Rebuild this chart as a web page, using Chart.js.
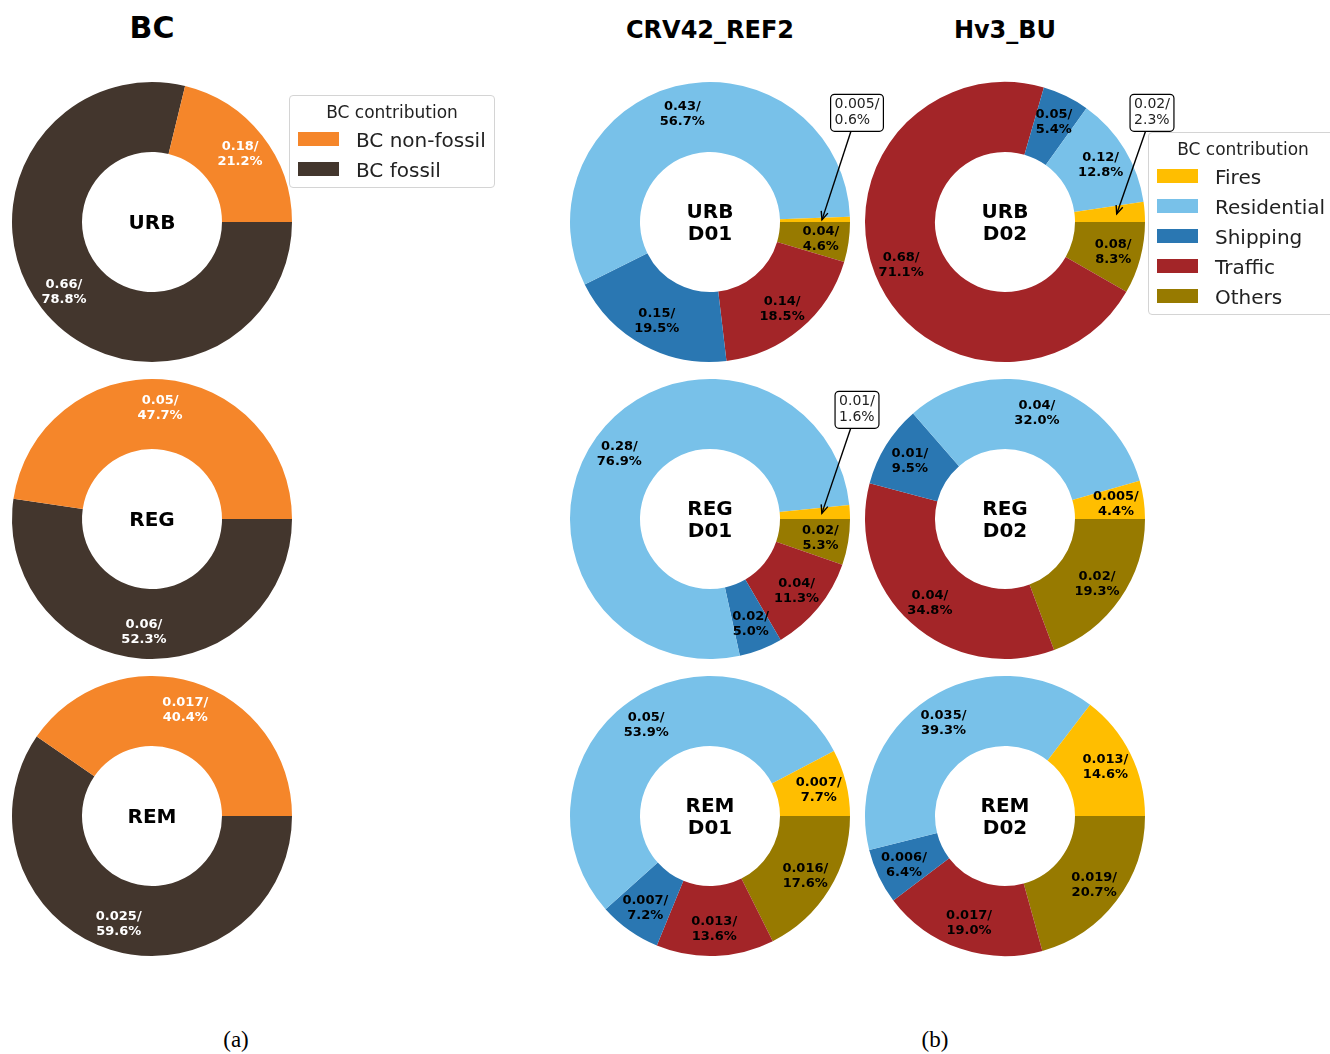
<!DOCTYPE html>
<html>
<head>
<meta charset="utf-8">
<script src="https://cdn.jsdelivr.net/npm/chart.js@4/dist/chart.umd.min.js"></script>
<style>
  body { margin: 0; background: #fff; width: 1330px; height: 1054px; position: relative; overflow: hidden; font-family: "DejaVu Sans", sans-serif; }
  canvas.pie { position: absolute; }
  .title { position: absolute; font-weight: bold; transform: translate(-50%, -50%); white-space: nowrap; color: #000; }
  .caption { position: absolute; font-family: "Liberation Serif", serif; font-size: 23px; transform: translate(-50%, -50%); }
  .legend { position: absolute; border: 1px solid #d4d4d4; border-radius: 4px; background: #fff; box-sizing: border-box; }
  .legend .lt { position: absolute; left: 0; right: 0; top: 6px; text-align: center; font-size: 17px; color: #222; }
  .legend .sw { position: absolute; width: 41px; height: 14px; }
  .legend .it { position: absolute; font-size: 20px; color: #222; line-height: 20px; white-space: nowrap; }
</style>
</head>
<body>
<script>
/* ---- data ---- */
// panel (a): fossil / non-fossil split
const bcCats = ["BC non-fossil", "BC fossil"];
const bcColors = ["#f5862a", "#43362d"];
const bcRegions = ["URB", "REG", "REM"];
const bcConc = [[0.18, 0.66], [0.05, 0.06], [0.017, 0.025]];
const bcPct = [[21.2, 78.8], [47.7, 52.3], [40.4, 59.6]];

// panel (b): source sectors
const srcCats = ["Fires", "Residential", "Shipping", "Traffic", "Others"];
const srcColors = ["#ffbe00", "#78c1e9", "#2a77b2", "#a32528", "#977a00"];
const runs = ["CRV42_REF2", "Hv3_BU"];
const domains = ["D01", "D02"];
// rows URB, REG, REM ; columns D01, D02
const srcConc = [
  [[0.005, 0.43, 0.15, 0.14, 0.04], [0.02, 0.12, 0.05, 0.68, 0.08]],
  [[0.01, 0.28, 0.02, 0.04, 0.02], [0.005, 0.04, 0.01, 0.04, 0.02]],
  [[0.007, 0.05, 0.007, 0.013, 0.016], [0.013, 0.035, 0.006, 0.017, 0.019]]
];
const srcPct = [
  [[0.6, 56.7, 19.5, 18.5, 4.6], [2.3, 12.8, 5.4, 71.1, 8.3]],
  [[1.6, 76.9, 5.0, 11.3, 5.3], [4.4, 32.0, 9.5, 34.8, 19.3]],
  [[7.7, 53.9, 7.2, 13.6, 17.6], [14.6, 39.3, 6.4, 19.0, 20.7]]
];

/* ---- layout ---- */
const R = 140;
const rowY = [222, 519, 816];
const colX = [152, 710, 1005];
const PAD = 20, EXTRA = 120;

// slice labels, centre text and call-out boxes for thin slices
const ringText = {
  id: "ringText",
  afterDatasetsDraw(chart) {
    const ctx = chart.ctx;
    const ds = chart.data.datasets[0];
    const arcs = chart.getDatasetMeta(0).data;
    ctx.save();
    arcs.forEach((arc, i) => {
      const p = ds.pct[i];
      const mid = (arc.startAngle + arc.endAngle) / 2;
      const r = arc.outerRadius * 0.8;
      const x = arc.x + Math.cos(mid) * r;
      const y = arc.y + Math.sin(mid) * r;
      const lines = [String(ds.conc[i]) + "/", p.toFixed(1) + "%"];
      if (p < 3) {
        // boxed label with arrow
        ctx.font = "14px 'DejaVu Sans'";
        const w = Math.max(...lines.map(l => ctx.measureText(l).width)) + 8;
        const h = 37;
        const bx = arc.x + arc.outerRadius * 1.05;
        const by = arc.y - arc.outerRadius * 0.78;
        const dx = x - bx, dy = y - by;
        const t = Math.min((w / 2) / Math.abs(dx || 1e-6), (h / 2) / Math.abs(dy || 1e-6));
        const sx = bx + dx * t, sy = by + dy * t;
        ctx.strokeStyle = "#000";
        ctx.lineWidth = 1.4;
        ctx.beginPath(); ctx.moveTo(sx, sy); ctx.lineTo(x, y); ctx.stroke();
        const ang = Math.atan2(y - sy, x - sx);
        ctx.beginPath();
        ctx.moveTo(x - 9 * Math.cos(ang - 0.4), y - 9 * Math.sin(ang - 0.4));
        ctx.lineTo(x, y);
        ctx.lineTo(x - 9 * Math.cos(ang + 0.4), y - 9 * Math.sin(ang + 0.4));
        ctx.stroke();
        ctx.fillStyle = "#fff";
        ctx.lineWidth = 1.2;
        ctx.beginPath();
        ctx.roundRect(bx - w / 2, by - h / 2, w, h, 4);
        ctx.fill(); ctx.stroke();
        ctx.fillStyle = "#222";
        ctx.textAlign = "left";
        ctx.textBaseline = "middle";
        ctx.fillText(lines[0], bx - w / 2 + 4, by - 8);
        ctx.fillText(lines[1], bx - w / 2 + 4, by + 8);
      } else {
        ctx.font = "bold 13px 'DejaVu Sans'";
        ctx.fillStyle = ds.textColor;
        ctx.textAlign = "center";
        ctx.textBaseline = "middle";
        ctx.fillText(lines[0], x, y - 6.5);
        ctx.fillText(lines[1], x, y + 8.5);
      }
    });
    // region / domain in the hole
    const c = arcs[0];
    ctx.font = "bold 20px 'DejaVu Sans'";
    ctx.fillStyle = "#000";
    ctx.textAlign = "center";
    ctx.textBaseline = "middle";
    const name = ds.centre;
    name.forEach((l, k) => ctx.fillText(l, c.x, c.y + 2 + (k - (name.length - 1) / 2) * 22));
    ctx.restore();
  }
};

function addDonut(cx, cy, cats, colors, conc, pct, centre, textColor) {
  const cv = document.createElement("canvas");
  cv.className = "pie";
  cv.width = 2 * R + 2 * PAD + EXTRA;
  cv.height = 2 * R + 2 * PAD;
  cv.style.left = (cx - R - PAD) + "px";
  cv.style.top = (cy - R - PAD) + "px";
  document.body.appendChild(cv);
  // slices run counter-clockwise from 3 o'clock, so feed them reversed
  const rev = a => a.slice().reverse();
  new Chart(cv, {
    type: "doughnut",
    data: {
      labels: rev(cats),
      datasets: [{
        data: rev(pct),
        pct: rev(pct),
        conc: rev(conc),
        centre: centre,
        textColor: textColor,
        backgroundColor: rev(colors),
        borderWidth: 0,
        hoverOffset: 0,
        offset: 0
      }]
    },
    options: {
      responsive: false,
      animation: false,
      rotation: 90,
      cutout: "50%",
      events: [],
      layout: { padding: { left: PAD, top: PAD, bottom: PAD, right: PAD + EXTRA } },
      plugins: { legend: { display: false }, tooltip: { enabled: false } }
    },
    plugins: [ringText]
  });
}

function addText(cls, txt, x, y, size) {
  const d = document.createElement("div");
  d.className = cls;
  d.textContent = txt;
  d.style.left = x + "px";
  d.style.top = y + "px";
  if (size) d.style.fontSize = size + "px";
  document.body.appendChild(d);
}

function addLegend(left, top, width, cats, colors) {
  const box = document.createElement("div");
  box.className = "legend";
  box.style.left = left + "px";
  box.style.top = top + "px";
  box.style.width = width + "px";
  box.style.height = (44 + 30 * (cats.length - 1) + 19) + "px";
  box.innerHTML = '<div class="lt">BC contribution</div>';
  cats.forEach((c, i) => {
    const sw = document.createElement("div");
    sw.className = "sw";
    sw.style.left = "8px";
    sw.style.top = (36 + 30 * i) + "px";
    sw.style.background = colors[i];
    box.appendChild(sw);
    const it = document.createElement("div");
    it.className = "it";
    it.style.left = "66px";
    it.style.top = (34 + 30 * i) + "px";
    it.textContent = c;
    box.appendChild(it);
  });
  document.body.appendChild(box);
}

// panel (a)
bcRegions.forEach((reg, r) => {
  addDonut(colX[0], rowY[r], bcCats, bcColors, bcConc[r], bcPct[r], [reg], "#fff");
});
// panel (b)
bcRegions.forEach((reg, r) => {
  domains.forEach((dom, d) => {
    addDonut(colX[1 + d], rowY[r], srcCats, srcColors, srcConc[r][d], srcPct[r][d], [reg, dom], "#000");
  });
});

addText("title", "BC", colX[0], 27, 30);
addText("title", runs[0], colX[1], 30, 24);
addText("title", runs[1], colX[2], 30, 24);
addText("caption", "(a)", 236, 1040);
addText("caption", "(b)", 935, 1040);

addLegend(289, 95, 206, bcCats, bcColors);
addLegend(1148, 132, 190, srcCats, srcColors);
</script>
</body>
</html>
